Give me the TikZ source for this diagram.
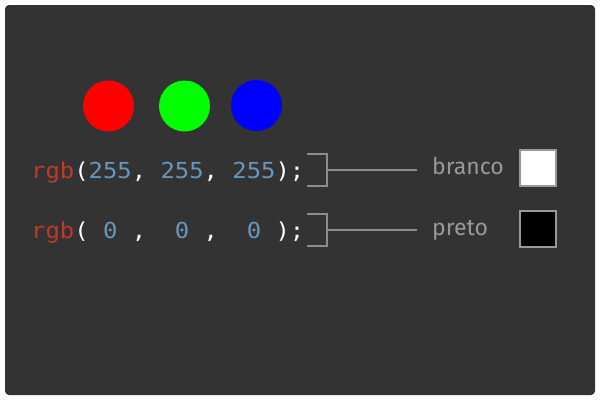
\documentclass[tikz,border=0pt]{standalone}
\usepackage{fontspec}
\setmainfont{Fira Sans}
\newfontfamily\codefont[FakeStretch=1.085]{DejaVu Sans Mono}
\usetikzlibrary{%
  positioning,% wg. " of "
  calc%
}
\definecolor{bgdark}{HTML}{333333}
\definecolor{kwred}{HTML}{C0392B}
\definecolor{numblue}{HTML}{6897BB}
\definecolor{lblgray}{HTML}{999999}
\definecolor{bracegray}{HTML}{8C8C8C}
\newcommand{\kw}[1]{\textcolor{kwred}{#1}}
\newcommand{\nm}[1]{\textcolor{numblue}{#1}}

\begin{document}
\begin{tikzpicture}[
  x=1pt,y=-1pt,
  dot/.style={circle,minimum size=51pt,inner sep=0pt},
  code/.style={anchor=base west,inner sep=0pt,text=white,
    font=\codefont\fontsize{22}{22}\selectfont},
  lbl/.style={anchor=base west,inner ysep=0pt,inner xsep=15pt,text=lblgray,
    font=\fontsize{23}{23}\selectfont},
  swatch/.style={draw=lblgray,line width=2pt,minimum size=36pt,inner sep=0pt},
  brace/.style={draw=bracegray,line width=2pt},
]

\useasboundingbox (0,0) rectangle (600,400);
\fill[white] (0,0) rectangle (600,400);
\fill[bgdark,rounded corners=4pt] (5,5) rectangle (595,395);

% the three channels
\node[dot,fill=red] (red) at (108.5,106) {};
\node[dot,fill=green] (green) at (184.5,106) {};
\node[dot,fill=blue] (blue) at (256.5,105.5) {};

% code lines
\node[code] (white) at (31,178) {\kw{rgb}(\nm{255}, \nm{255}, \nm{255});};
\node[code] (black) at (31,238.5) {\kw{rgb}(\ \nm{0}\ ,\ \ \nm{0}\ ,\ \ \nm{0}\ );};

% brackets
\coordinate (br1) at (327,170);
\coordinate (br2) at (327,230);
\draw[brace] ([shift={(-20,-16)}]br1) -| ([shift={(0,16)}]br1) -- ++(-20,0);
\draw[brace] ([shift={(-20,-16)}]br2) -| ([shift={(0,16)}]br2) -- ++(-20,0);

\node[lbl] (branco) at (417,174.5) {branco};
\node[lbl] (preto) at (417,235.5) {preto};
\draw[brace] (br1) -- (br1 -| branco.west);
\draw[brace] (br2) -- (br2 -| preto.west);

\node[swatch,fill=white] (sw1) at (538,168) {};
\node[swatch,fill=black] (sw2) at (538,229) {};

\end{tikzpicture}
\end{document}
